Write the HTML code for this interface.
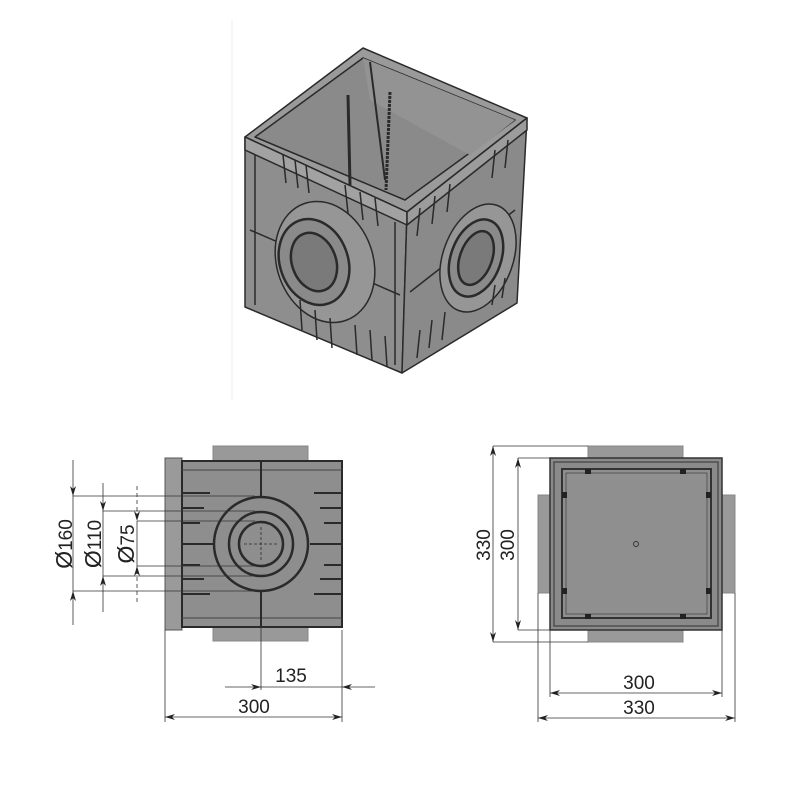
<!DOCTYPE html>
<html><head><style>body{margin:0;background:#fff}svg{display:block}</style></head><body>
<svg width="800" height="800" viewBox="0 0 800 800" xmlns="http://www.w3.org/2000/svg" font-family="Liberation Sans, sans-serif">
<defs>
<marker id="a" viewBox="0 0 10 6" refX="10" refY="3" markerWidth="10" markerHeight="6" orient="auto-start-reverse" markerUnits="userSpaceOnUse"><path d="M0,0 L10,3 L0,6 L3,3Z" fill="#222"/></marker>
</defs>
<line x1="232" y1="20" x2="232" y2="400" stroke="#eee" stroke-width="1"/>
<!-- 3D box -->
<g stroke="#2a2a2a" stroke-width="1.5" stroke-linejoin="round">
<polygon points="245,137 363,48 527,118 407,212" fill="#9a9a9a"/>
<polygon points="255,137 363,58 515,120 405,200" fill="#8a8a8a"/>
<polygon points="363,58 515,120 470,155 370,100" fill="#939393" stroke="none"/>
<line x1="370" y1="62" x2="385" y2="180" stroke-width="2"/>
<line x1="348" y1="95" x2="350" y2="185" stroke-width="3"/>
<line x1="390" y1="92" x2="386" y2="190" stroke-width="3" stroke-dasharray="3,1"/>
<polygon points="245,137 407,212 402,373 245,307" fill="#8e8e8e"/>
<polygon points="407,212 527,118 517,303 402,373" fill="#8a8a8a"/>
<polygon points="245,137 407,212 407,225 245,150" fill="#a2a2a2"/>
<polygon points="407,212 527,118 527,130 407,225" fill="#9c9c9c"/>
<line x1="255" y1="155" x2="255" y2="305"/>
<line x1="395" y1="222" x2="395" y2="365"/>
<line x1="250" y1="230" x2="400" y2="295"/>
<line x1="410" y1="292" x2="515" y2="210"/>
<ellipse cx="325" cy="262" rx="48" ry="62" transform="rotate(-20 325 262)" fill="#969696"/>
<ellipse cx="314" cy="262" rx="34" ry="44" transform="rotate(-20 314 262)" fill="#8a8a8a" stroke-width="2.5"/>
<ellipse cx="314" cy="262" rx="22" ry="30" transform="rotate(-20 314 262)" fill="#7a7a7a" stroke-width="2.5"/>
<ellipse cx="478" cy="258" rx="35" ry="56" transform="rotate(20 478 258)" fill="#969696"/>
<ellipse cx="476" cy="258" rx="25" ry="40" transform="rotate(20 476 258)" fill="#8a8a8a" stroke-width="2.5"/>
<ellipse cx="476" cy="258" rx="16" ry="28" transform="rotate(20 476 258)" fill="#7a7a7a" stroke-width="2.5"/>
<g stroke-width="1.5">
<path d="M283,155 l3,28 M295,160 l3,28 M306,165 l3,28 M345,185 l3,28 M360,192 l3,28 M375,198 l3,28 M300,300 l2,30 M315,310 l2,30 M330,318 l2,30 M355,325 l2,30 M370,330 l2,30 M385,336 l2,30"/>
<path d="M420,208 l-3,28 M435,196 l-3,28 M450,184 l-3,28 M495,150 l-3,28 M508,140 l-3,28 M420,330 l-3,28 M432,320 l-3,28 M445,312 l-3,28 M495,285 l-3,20 M505,278 l-3,20"/>
</g>
</g>
<!-- left view -->
<g stroke="#2a2a2a">
<rect x="213" y="446" width="95" height="16" fill="#999" stroke="#888"/>
<rect x="213" y="627" width="95" height="14" fill="#999" stroke="#888"/>
<rect x="165" y="458" width="17" height="172" fill="#9a9a9a" stroke="#555"/>
<rect x="182" y="461" width="160" height="166" fill="#8e8e8e" stroke-width="2"/>
<g stroke-width="1" stroke="#444"><line x1="182" y1="470" x2="342" y2="470"/><line x1="182" y1="618" x2="342" y2="618"/></g>
<g stroke-width="2">
<path d="M182,493 h28 M182,508 h22 M182,523 h18 M182,544 h32 M182,565 h18 M182,579 h22 M182,594 h28"/>
<path d="M342,493 h-28 M342,508 h-22 M342,523 h-18 M342,544 h-32 M342,565 h-18 M342,579 h-22 M342,594 h-28"/>
<line x1="261" y1="462" x2="261" y2="497"/><line x1="261" y1="591" x2="261" y2="627"/>
</g>
<circle cx="261" cy="544" r="47" fill="none" stroke-width="2.5"/>
<circle cx="261" cy="544" r="32" fill="none" stroke-width="2.5"/>
<circle cx="261" cy="544" r="22" fill="none" stroke-width="2.5"/>
<path d="M244,544 h34 M261,527 v34" stroke-width="0.8" stroke-dasharray="3,2"/>
</g>
<g stroke="#333" stroke-width="0.8" fill="none">
<path d="M73,496 H255 M103,511 H255 M137,521 H255 M137,566 H255 M103,576 H255 M73,591 H255"/>
<line x1="73" y1="460" x2="73" y2="496" marker-end="url(#a)"/><line x1="73" y1="625" x2="73" y2="591" marker-end="url(#a)"/>
<line x1="73" y1="496" x2="73" y2="591"/>
<line x1="103" y1="483" x2="103" y2="511" marker-end="url(#a)"/><line x1="103" y1="612" x2="103" y2="576" marker-end="url(#a)"/>
<line x1="103" y1="511" x2="103" y2="576"/>
<line x1="137" y1="486" x2="137" y2="521" marker-end="url(#a)" stroke-dasharray="4,3"/><line x1="137" y1="602" x2="137" y2="566" marker-end="url(#a)" stroke-dasharray="4,3"/>
<line x1="137" y1="521" x2="137" y2="566"/>
<path d="M165,630 V722 M342,630 V722 M261,627 V690"/>
<line x1="225" y1="687" x2="261" y2="687" marker-end="url(#a)"/><line x1="375" y1="687" x2="342" y2="687" marker-end="url(#a)"/>
<line x1="261" y1="687" x2="342" y2="687"/>
<line x1="165" y1="717" x2="342" y2="717" marker-start="url(#a)" marker-end="url(#a)"/>
</g>
<g fill="#222" font-size="19" text-anchor="middle">
<text transform="translate(72,544) rotate(-90)"><tspan font-size="23">Ø</tspan>160</text>
<text transform="translate(101,544) rotate(-90)"><tspan font-size="23">Ø</tspan>110</text>
<text transform="translate(134,544) rotate(-90)"><tspan font-size="23">Ø</tspan>75</text>
<text x="291" y="682">135</text>
<text x="254" y="713">300</text>
</g>
<!-- right view -->
<g stroke="#333">
<rect x="588" y="446" width="95" height="12" fill="#999" stroke="#888"/>
<rect x="588" y="630" width="95" height="12" fill="#999" stroke="#888"/>
<rect x="538" y="495" width="12" height="98" fill="#999" stroke="#888"/>
<rect x="722" y="495" width="13" height="98" fill="#999" stroke="#888"/>
<rect x="550" y="458" width="172" height="172" fill="#8a8a8a" stroke-width="1.5"/>
<rect x="554" y="462" width="164" height="164" fill="none" stroke-width="1"/>
<rect x="562" y="469" width="149" height="149" fill="#8f8f8f" stroke-width="2"/>
<rect x="566" y="473" width="141" height="141" fill="none" stroke-width="0.6"/>
<g fill="#222" stroke="none">
<rect x="585" y="469" width="6" height="5"/><rect x="680" y="469" width="6" height="5"/>
<rect x="585" y="614" width="6" height="5"/><rect x="680" y="614" width="6" height="5"/>
<rect x="562" y="492" width="5" height="6"/><rect x="706" y="492" width="5" height="6"/>
<rect x="562" y="588" width="5" height="6"/><rect x="706" y="588" width="5" height="6"/>
</g>
<circle cx="636" cy="544" r="2.5" fill="none" stroke-width="1"/>
</g>
<g stroke="#333" stroke-width="0.8" fill="none">
<path d="M493,446 H588 M518,458 H550 M493,642 H588 M518,630 H550 M538,593 V722 M735,593 V722 M550,630 V697 M722,630 V697"/>
<line x1="493" y1="446" x2="493" y2="642" marker-start="url(#a)" marker-end="url(#a)"/>
<line x1="518" y1="458" x2="518" y2="630" marker-start="url(#a)" marker-end="url(#a)"/>
<line x1="550" y1="693" x2="722" y2="693" marker-start="url(#a)" marker-end="url(#a)"/>
<line x1="538" y1="718" x2="735" y2="718" marker-start="url(#a)" marker-end="url(#a)"/>
</g>
<g fill="#222" font-size="19" text-anchor="middle">
<text transform="translate(490,545) rotate(-90)">330</text>
<text transform="translate(514,545) rotate(-90)">300</text>
<text x="639" y="689">300</text>
<text x="639" y="714">330</text>
</g>
</svg>
</body></html>
